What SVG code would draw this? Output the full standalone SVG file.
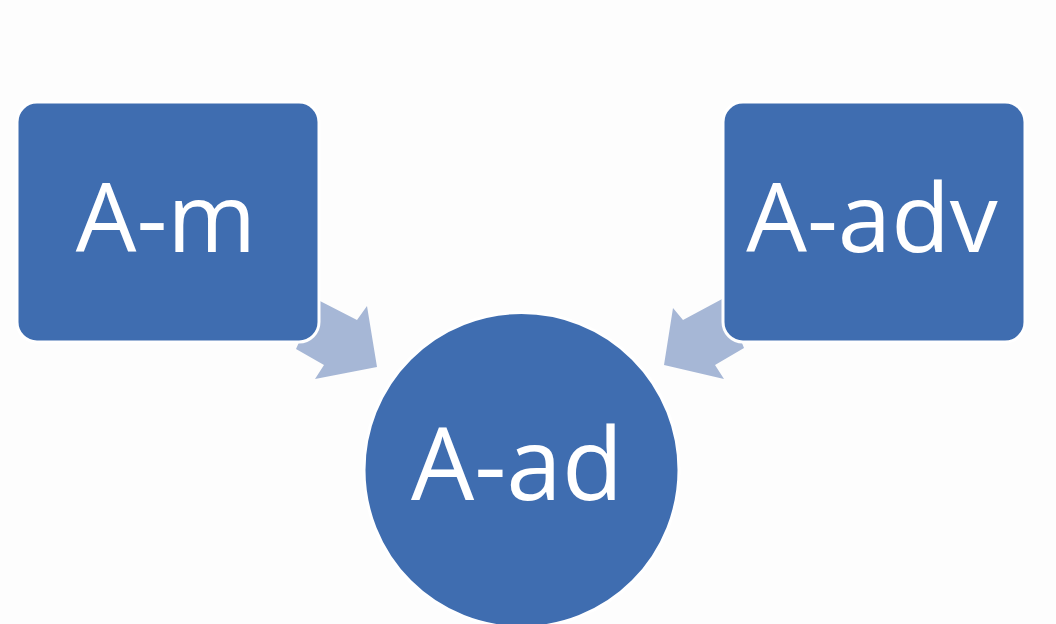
<svg xmlns="http://www.w3.org/2000/svg" width="1056" height="624" viewBox="0 0 1056 624">
<style>
.node{fill:#3f6db0;stroke:#ffffff;stroke-width:3}
.lbl{fill:#ffffff;font-family:"Open Sans","Noto Sans",sans-serif;text-anchor:middle}
.arrow{fill:#a6b7d6}
</style>
<rect x="0" y="0" width="1056" height="624" fill="#fdfdfd"/>
<g id="connectors">
<polygon class="arrow" points="318,300 357,320 367,306 377,367 315,379 324,365 296,349"/>
<polygon class="arrow" points="724,298 683,320 673,308 664,365 724,379 715,365 744,348"/>
</g>
<g id="node-am">
<rect class="node" x="17" y="102" width="302" height="240" rx="20"/>
<text class="lbl" x="166" y="252" font-size="96">A-m</text>
</g>
<g id="node-aadv">
<rect class="node" x="723" y="102" width="302" height="240" rx="20"/>
<text class="lbl" x="872" y="252" font-size="96">A-adv</text>
</g>
<g id="node-aad">
<circle class="node" cx="521.5" cy="470" r="157.5"/>
<text class="lbl" x="517" y="500" font-size="100">A-ad</text>
</g>
</svg>
